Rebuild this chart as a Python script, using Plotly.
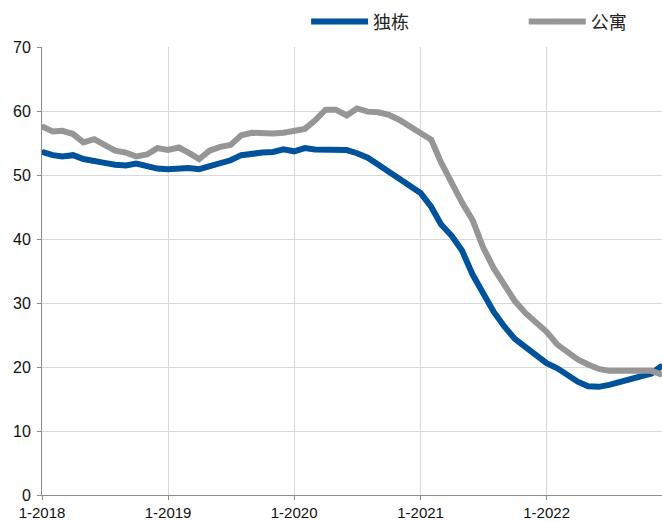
import plotly.graph_objects as go
import pandas as pd

months = pd.date_range("2018-01-01", "2022-12-01", freq="MS").strftime("%Y-%m-%d").tolist()

single_family = [
    53.6, 53.1, 52.9, 53.1, 52.5, 52.3, 51.9, 51.6, 51.5, 51.8, 51.4, 51.0,
    50.9, 51.0, 51.1, 50.9, 51.4, 51.8, 52.3, 53.1, 53.4, 53.5, 53.6, 54.0,
    53.7, 54.2, 54.0, 53.9, 53.9, 53.9, 53.4, 52.7, 51.6, 50.5, 49.5, 48.2,
    47.2, 45.0, 42.3, 40.5, 38.2, 34.4, 31.3, 28.6, 26.3, 24.4, 23.1, 21.9,
    20.6, 19.8, 18.7, 17.7, 17.0, 16.9, 17.2, 17.6, 18.0, 18.5, 19.0, 20.2,
]
apartment = [
    57.6, 56.8, 56.9, 56.4, 55.1, 55.6, 54.7, 53.8, 53.5, 52.9, 53.2, 54.2,
    53.9, 54.3, 53.5, 52.5, 53.8, 54.4, 54.7, 56.2, 56.6, 56.5, 56.5, 56.6,
    56.8, 57.2, 58.5, 60.2, 60.2, 59.3, 60.4, 59.9, 59.8, 59.4, 58.6, 57.6,
    56.6, 55.5, 52.0, 48.6, 45.7, 42.9, 38.7, 35.4, 32.6, 30.3, 28.4, 27.0,
    25.5, 23.5, 22.3, 21.2, 20.4, 19.7, 19.4, 19.4, 19.4, 19.3, 19.4, 18.8,
]
series_names = ["独栋", "公寓"]
tick_dates = ["2018-01-01", "2019-01-01", "2020-01-01", "2021-01-01", "2022-01-01"]
tick_labels = ["1-2018", "1-2019", "1-2020", "1-2021", "1-2022"]
y_ticks = [0, 10, 20, 30, 40, 50, 60, 70]

blue = "#00539A"
gray = "#969696"

fig = go.Figure()
fig.add_trace(go.Scatter(x=months, y=single_family, name=series_names[0], mode="lines+markers",
                         line=dict(color=blue, width=6), marker=dict(color=blue, size=4),
                         legend="legend"))
fig.add_trace(go.Scatter(x=months, y=apartment, name=series_names[1], mode="lines+markers",
                         line=dict(color=gray, width=6), marker=dict(color=gray, size=4),
                         legend="legend2"))

legend_common = dict(orientation="h", xanchor="left", y=1.056, yanchor="middle",
                     itemwidth=57,
                     font=dict(family="Noto Sans CJK SC", size=18, color="#222"),
                     bgcolor="rgba(0,0,0,0)")

fig.update_layout(
    width=662, height=521,
    margin=dict(l=42, r=0, t=47, b=26),
    plot_bgcolor="white", paper_bgcolor="white",
    font=dict(family="Liberation Sans, Arial, sans-serif", size=16, color="#111"),
    showlegend=True,
    legend=dict(x=0.426, **legend_common),
    legend2=dict(x=0.777, **legend_common),
    xaxis=dict(type="date", range=["2018-01-01", "2022-12-01"],
               tickvals=tick_dates, ticktext=tick_labels,
               tickfont=dict(size=15),
               showgrid=True, gridcolor="#d9d9d9", gridwidth=1,
               showline=True, linecolor="#8c8c8c", linewidth=1,
               ticks="outside", ticklen=4, tickcolor="#8c8c8c",
               zeroline=False, automargin=False),
    yaxis=dict(range=[0, 70], tickvals=y_ticks,
               showgrid=True, gridcolor="#d9d9d9", gridwidth=1,
               showline=True, linecolor="#8c8c8c", linewidth=1,
               ticks="outside", ticklen=4, tickcolor="#8c8c8c",
               ticklabelstandoff=3,
               zeroline=False, automargin=False),
)

fig.write_html("out.html", config={"displayModeBar": False},
               post_script="document.body.style.margin='0';document.body.style.overflow='hidden';")
